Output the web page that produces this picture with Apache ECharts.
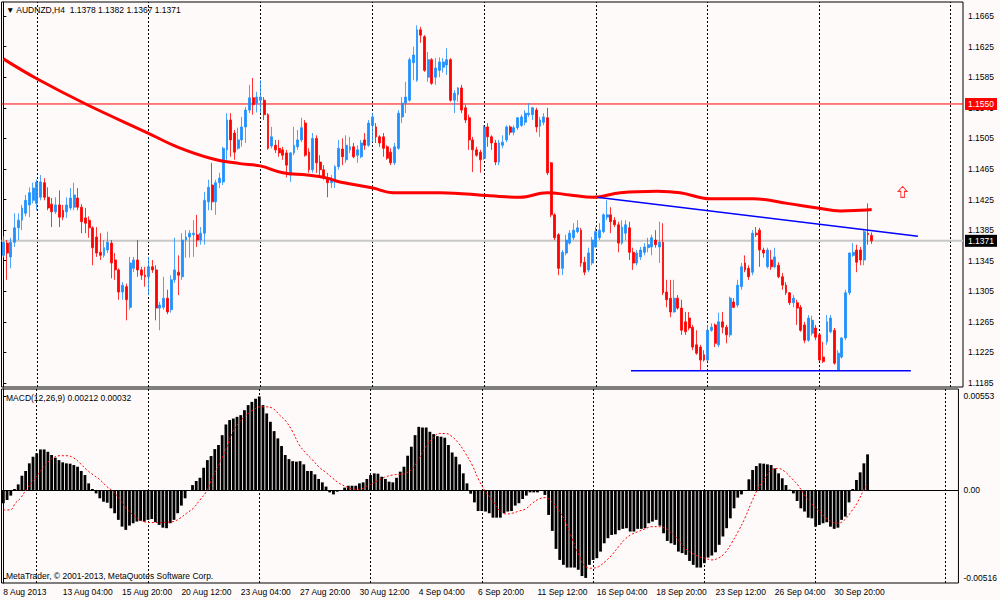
<!DOCTYPE html>
<html>
<head>
<meta charset="utf-8">
<title>AUDNZD,H4</title>
<script src="https://cdn.jsdelivr.net/npm/echarts@6/dist/echarts.min.js"></script>
<style>
html, body { margin: 0; padding: 0; background: #fffafa; }
#main { width: 1000px; height: 600px; }
</style>
</head>
<body>
<div id="main"></div>
<script>
// H4 bars, MT4 order: open, high, low, close
var candles = [
[1.1352,1.1377,1.1349,1.1369],[1.1368,1.1372,1.1320,1.1355],[1.1350,1.1375,1.1335,1.1369],[1.1369,1.1407,1.1363,1.1388],[1.1388,1.1407,1.1372,1.1398],
[1.1398,1.1418,1.1385,1.1414],[1.1407,1.1431,1.1403,1.1424],[1.1418,1.1441,1.1402,1.1434],[1.1424,1.1447,1.1420,1.1440],[1.1420,1.1451,1.1411,1.1448],
[1.1428,1.1457,1.1424,1.1448],[1.1447,1.1453,1.1424,1.1428],[1.1428,1.1441,1.1411,1.1414],[1.1419,1.1427,1.1389,1.1409],[1.1409,1.1428,1.1406,1.1418],
[1.1418,1.1437,1.1389,1.1402],[1.1411,1.1418,1.1398,1.1402],[1.1409,1.1428,1.1401,1.1418],[1.1414,1.1440,1.1411,1.1427],[1.1415,1.1447,1.1411,1.1431],
[1.1427,1.1440,1.1411,1.1415],[1.1415,1.1419,1.1381,1.1396],[1.1401,1.1414,1.1381,1.1394],[1.1398,1.1403,1.1375,1.1388],[1.1388,1.1390,1.1339,1.1362],
[1.1376,1.1389,1.1350,1.1355],[1.1356,1.1381,1.1346,1.1352],[1.1352,1.1372,1.1349,1.1362],[1.1359,1.1383,1.1355,1.1369],[1.1368,1.1372,1.1322,1.1342],
[1.1346,1.1355,1.1320,1.1333],[1.1333,1.1335,1.1294,1.1304],[1.1304,1.1317,1.1294,1.1313],[1.1311,1.1315,1.1267,1.1294],[1.1284,1.1350,1.1281,1.1342],
[1.1335,1.1350,1.1330,1.1346],[1.1346,1.1372,1.1324,1.1333],[1.1333,1.1337,1.1320,1.1326],[1.1326,1.1337,1.1311,1.1324],[1.1324,1.1350,1.1300,1.1337],
[1.1337,1.1346,1.1329,1.1333],[1.1333,1.1339,1.1267,1.1283],[1.1283,1.1291,1.1254,1.1287],[1.1284,1.1324,1.1281,1.1296],[1.1296,1.1307,1.1275,1.1278],
[1.1281,1.1326,1.1277,1.1320],[1.1320,1.1375,1.1316,1.1333],[1.1330,1.1352,1.1300,1.1326],[1.1324,1.1381,1.1320,1.1372],[1.1372,1.1385,1.1349,1.1376],
[1.1376,1.1385,1.1349,1.1381],[1.1379,1.1398,1.1350,1.1381],[1.1379,1.1405,1.1363,1.1372],[1.1372,1.1389,1.1366,1.1381],[1.1381,1.1435,1.1366,1.1424],
[1.1422,1.1451,1.1411,1.1441],[1.1444,1.1473,1.1411,1.1422],[1.1422,1.1451,1.1405,1.1447],[1.1447,1.1460,1.1440,1.1453],[1.1448,1.1494,1.1444,1.1492],
[1.1490,1.1538,1.1477,1.1529],[1.1529,1.1538,1.1481,1.1503],[1.1512,1.1516,1.1477,1.1487],[1.1492,1.1519,1.1490,1.1503],[1.1503,1.1533,1.1494,1.1520],
[1.1520,1.1546,1.1499,1.1542],[1.1542,1.1575,1.1538,1.1558],[1.1558,1.1584,1.1536,1.1549],[1.1551,1.1566,1.1539,1.1559],[1.1555,1.1581,1.1538,1.1559],
[1.1555,1.1559,1.1529,1.1536],[1.1536,1.1538,1.1490,1.1492],[1.1495,1.1520,1.1492,1.1507],[1.1496,1.1503,1.1486,1.1490],[1.1492,1.1503,1.1481,1.1486],
[1.1490,1.1494,1.1477,1.1483],[1.1486,1.1490,1.1454,1.1470],[1.1457,1.1487,1.1448,1.1486],[1.1486,1.1520,1.1483,1.1496],[1.1494,1.1516,1.1490,1.1503],
[1.1503,1.1532,1.1500,1.1519],[1.1525,1.1529,1.1481,1.1483],[1.1487,1.1492,1.1460,1.1464],[1.1464,1.1512,1.1460,1.1505],[1.1505,1.1509,1.1460,1.1473],
[1.1474,1.1483,1.1454,1.1464],[1.1464,1.1470,1.1451,1.1454],[1.1453,1.1460,1.1428,1.1447],[1.1447,1.1457,1.1440,1.1451],[1.1448,1.1470,1.1440,1.1468],
[1.1468,1.1503,1.1464,1.1492],[1.1491,1.1505,1.1470,1.1481],[1.1477,1.1509,1.1473,1.1496],[1.1490,1.1507,1.1486,1.1494],[1.1494,1.1499,1.1479,1.1481],
[1.1483,1.1496,1.1473,1.1490],[1.1481,1.1503,1.1479,1.1499],[1.1503,1.1512,1.1490,1.1496],[1.1496,1.1529,1.1494,1.1525],[1.1522,1.1538,1.1500,1.1533],
[1.1520,1.1525,1.1499,1.1507],[1.1507,1.1509,1.1494,1.1499],[1.1507,1.1512,1.1481,1.1492],[1.1494,1.1496,1.1477,1.1479],[1.1487,1.1492,1.1470,1.1473],
[1.1473,1.1499,1.1470,1.1494],[1.1492,1.1542,1.1490,1.1538],[1.1533,1.1559,1.1525,1.1551],[1.1551,1.1579,1.1538,1.1559],[1.1555,1.1611,1.1553,1.1608],
[1.1604,1.1625,1.1581,1.1614],[1.1581,1.1653,1.1579,1.1647],[1.1647,1.1651,1.1630,1.1640],[1.1638,1.1640,1.1592,1.1594],[1.1585,1.1618,1.1579,1.1608],
[1.1608,1.1610,1.1575,1.1577],[1.1585,1.1610,1.1575,1.1597],[1.1594,1.1611,1.1585,1.1605],[1.1598,1.1610,1.1591,1.1605],[1.1601,1.1623,1.1588,1.1608],
[1.1608,1.1610,1.1553,1.1555],[1.1555,1.1568,1.1538,1.1564],[1.1562,1.1572,1.1553,1.1571],[1.1571,1.1575,1.1538,1.1542],[1.1545,1.1549,1.1525,1.1529],
[1.1532,1.1536,1.1490,1.1503],[1.1503,1.1507,1.1461,1.1490],[1.1490,1.1494,1.1481,1.1483],[1.1487,1.1490,1.1460,1.1477],[1.1479,1.1522,1.1477,1.1520],
[1.1520,1.1525,1.1494,1.1507],[1.1507,1.1509,1.1490,1.1499],[1.1499,1.1503,1.1470,1.1474],[1.1474,1.1503,1.1470,1.1499],[1.1496,1.1509,1.1492,1.1500],
[1.1503,1.1522,1.1500,1.1520],[1.1520,1.1522,1.1509,1.1513],[1.1513,1.1522,1.1509,1.1519],[1.1519,1.1533,1.1516,1.1532],[1.1522,1.1536,1.1520,1.1533],
[1.1526,1.1542,1.1522,1.1538],[1.1536,1.1551,1.1533,1.1538],[1.1536,1.1546,1.1529,1.1545],[1.1542,1.1545,1.1513,1.1520],[1.1521,1.1533,1.1507,1.1529],
[1.1526,1.1538,1.1522,1.1533],[1.1532,1.1545,1.1457,1.1460],[1.1473,1.1474,1.1402,1.1405],[1.1405,1.1407,1.1372,1.1375],[1.1379,1.1381,1.1326,1.1335],
[1.1335,1.1359,1.1326,1.1356],[1.1355,1.1379,1.1352,1.1372],[1.1368,1.1385,1.1366,1.1381],[1.1375,1.1394,1.1372,1.1385],[1.1383,1.1398,1.1381,1.1388],
[1.1385,1.1388,1.1337,1.1342],[1.1343,1.1350,1.1326,1.1330],[1.1333,1.1362,1.1330,1.1355],[1.1342,1.1376,1.1339,1.1372],[1.1363,1.1389,1.1362,1.1383],
[1.1375,1.1394,1.1372,1.1385],[1.1383,1.1407,1.1381,1.1405],[1.1402,1.1424,1.1398,1.1405],[1.1405,1.1415,1.1381,1.1396],[1.1398,1.1402,1.1389,1.1392],
[1.1392,1.1396,1.1356,1.1368],[1.1368,1.1398,1.1366,1.1389],[1.1381,1.1398,1.1372,1.1392],[1.1388,1.1396,1.1346,1.1356],[1.1356,1.1362,1.1333,1.1342],
[1.1342,1.1359,1.1339,1.1355],[1.1350,1.1363,1.1346,1.1359],[1.1356,1.1368,1.1352,1.1363],[1.1362,1.1375,1.1356,1.1366],[1.1363,1.1379,1.1352,1.1375],
[1.1372,1.1385,1.1362,1.1366],[1.1363,1.1396,1.1342,1.1369],[1.1369,1.1394,1.1300,1.1303],[1.1304,1.1320,1.1284,1.1294],[1.1296,1.1320,1.1271,1.1278],
[1.1278,1.1320,1.1277,1.1296],[1.1296,1.1300,1.1281,1.1283],[1.1283,1.1294,1.1248,1.1254],[1.1265,1.1278,1.1248,1.1252],[1.1270,1.1278,1.1254,1.1257],
[1.1258,1.1261,1.1228,1.1232],[1.1235,1.1254,1.1222,1.1224],[1.1232,1.1235,1.1202,1.1215],[1.1222,1.1228,1.1213,1.1215],[1.1215,1.1261,1.1213,1.1254],
[1.1254,1.1263,1.1252,1.1258],[1.1261,1.1263,1.1232,1.1237],[1.1235,1.1277,1.1232,1.1265],[1.1265,1.1278,1.1250,1.1258],[1.1258,1.1261,1.1237,1.1248],
[1.1248,1.1298,1.1245,1.1296],[1.1291,1.1296,1.1283,1.1284],[1.1287,1.1320,1.1284,1.1313],[1.1311,1.1342,1.1307,1.1337],[1.1342,1.1352,1.1330,1.1333],
[1.1335,1.1339,1.1320,1.1324],[1.1330,1.1385,1.1326,1.1381],[1.1381,1.1389,1.1376,1.1379],[1.1385,1.1388,1.1337,1.1359],[1.1359,1.1362,1.1349,1.1355],
[1.1337,1.1362,1.1335,1.1359],[1.1346,1.1359,1.1333,1.1337],[1.1337,1.1362,1.1335,1.1350],[1.1339,1.1343,1.1322,1.1324],[1.1324,1.1329,1.1307,1.1313],
[1.1313,1.1317,1.1300,1.1303],[1.1303,1.1304,1.1287,1.1290],[1.1290,1.1300,1.1284,1.1296],[1.1290,1.1294,1.1261,1.1283],[1.1284,1.1287,1.1252,1.1254],
[1.1261,1.1265,1.1237,1.1241],[1.1241,1.1274,1.1239,1.1270],[1.1250,1.1273,1.1247,1.1267],[1.1257,1.1261,1.1241,1.1245],[1.1248,1.1250,1.1213,1.1215],
[1.1219,1.1239,1.1211,1.1213],[1.1239,1.1274,1.1235,1.1265],[1.1252,1.1274,1.1250,1.1270],[1.1254,1.1257,1.1209,1.1211],[1.1202,1.1228,1.1201,1.1224],
[1.1219,1.1245,1.1217,1.1244],[1.1244,1.1307,1.1241,1.1303],[1.1303,1.1356,1.1300,1.1355],[1.1352,1.1368,1.1350,1.1356],[1.1359,1.1366,1.1330,1.1343],
[1.1359,1.1363,1.1339,1.1346],[1.1346,1.1385,1.1339,1.1383],[1.1381,1.1420,1.1366,1.1379],[1.1378,1.1382,1.1367,1.1371]
];

// moving average, [bar, price]
var maPoints = [[0,1.1609],[9,1.1583],[22.5,1.1549],[38.8,1.1512],[46.6,1.1494],[56.3,1.1478],[63.5,1.1472],[68.9,1.1469],
  [75,1.1460],[81.5,1.1457],[86.9,1.1453],[90.3,1.1448],[99.2,1.1440],[104.5,1.1434],[117.2,1.1434],[130.6,1.1430],
  [138.6,1.1428],[145.9,1.1434],[152,1.1431],[158.2,1.1428],[165.6,1.1434],[175.4,1.1436],[181.6,1.1434],[189.7,1.1426],
  [195.1,1.1426],[201.2,1.1426],[210.3,1.1420],[218.4,1.1414],[224.6,1.1410],[230,1.1411],[233,1.1412]];

// MACD(12,26,9) histogram, one per bar
var macdHist = [
-0.00076,-0.00057,-0.00031,0.00008,0.00035,0.00086,0.00114,0.00159,0.00198,0.00218,
0.00241,0.00241,0.00227,0.00208,0.00192,0.00178,0.00165,0.00159,0.00157,0.00149,
0.00139,0.00114,0.00090,0.00041,0.00008,-0.00018,-0.00047,-0.00067,-0.00073,-0.00106,
-0.00135,-0.00174,-0.00214,-0.00233,-0.00208,-0.00194,-0.00184,-0.00180,-0.00184,-0.00174,
-0.00169,-0.00188,-0.00204,-0.00220,-0.00223,-0.00194,-0.00174,-0.00135,-0.00090,-0.00047,
-0.00004,0.00031,0.00055,0.00074,0.00133,0.00178,0.00202,0.00243,0.00267,0.00325,
0.00388,0.00414,0.00423,0.00433,0.00443,0.00472,0.00502,0.00521,0.00540,0.00553,
0.00502,0.00453,0.00404,0.00349,0.00306,0.00261,0.00208,0.00184,0.00172,0.00169,
0.00172,0.00153,0.00114,0.00114,0.00094,0.00067,0.00047,0.00022,-0.00012,-0.00024,
-0.00008,0.00002,0.00016,0.00027,0.00027,0.00027,0.00041,0.00047,0.00067,0.00090,
0.00100,0.00098,0.00080,0.00067,0.00051,0.00047,0.00074,0.00110,0.00139,0.00204,
0.00257,0.00325,0.00374,0.00370,0.00370,0.00345,0.00331,0.00319,0.00316,0.00310,
0.00267,0.00223,0.00198,0.00153,0.00100,0.00041,-0.00020,-0.00071,-0.00122,-0.00122,
-0.00125,-0.00135,-0.00161,-0.00161,-0.00161,-0.00135,-0.00125,-0.00122,-0.00090,-0.00076,
-0.00051,-0.00031,-0.00012,-0.00012,-0.00012,-0.00004,-0.00027,-0.00145,-0.00239,-0.00345,
-0.00410,-0.00439,-0.00455,-0.00455,-0.00455,-0.00468,-0.00505,-0.00516,-0.00439,-0.00410,
-0.00400,-0.00361,-0.00312,-0.00282,-0.00263,-0.00259,-0.00235,-0.00227,-0.00223,-0.00243,
-0.00243,-0.00227,-0.00227,-0.00223,-0.00194,-0.00184,-0.00174,-0.00208,-0.00253,-0.00298,
-0.00312,-0.00321,-0.00361,-0.00370,-0.00380,-0.00416,-0.00439,-0.00455,-0.00455,-0.00429,
-0.00396,-0.00384,-0.00365,-0.00321,-0.00272,-0.00223,-0.00165,-0.00106,-0.00043,-0.00024,
-0.00004,0.00065,0.00120,0.00143,0.00159,0.00157,0.00153,0.00149,0.00129,0.00100,
0.00071,0.00031,0.00004,-0.00018,-0.00063,-0.00106,-0.00125,-0.00161,-0.00165,-0.00214,
-0.00204,-0.00194,-0.00188,-0.00214,-0.00227,-0.00220,-0.00174,-0.00155,-0.00071,0.00008,
0.00061,0.00106,0.00159,0.00212
];

// MACD signal line, [bar, value]
var signalPoints = [[0,-0.00116],[2,-0.00114],[3.2,-0.00076],[4.6,-0.00047],[6.4,0.00012],[8.2,0.00061],[9.9,0.00110],
  [11.7,0.00159],[13.5,0.00192],[15.3,0.00204],[17.1,0.00204],[18.9,0.00192],[20.7,0.00159],[22.5,0.00120],[24.3,0.00090],
  [26.1,0.00061],[27.9,0.00022],[29.7,-0.00008],[31.5,-0.00057],[33.2,-0.00106],[35,-0.00145],[36.8,-0.00174],[38.6,-0.00188],
  [40.4,-0.00190],[42.2,-0.00190],[44,-0.00188],[45.8,-0.00184],[47.6,-0.00165],[49.4,-0.00135],[51.2,-0.00106],[53,-0.00057],
  [54.7,-0.00008],[56.5,0.00080],[58.3,0.00159],[60.1,0.00247],[61.9,0.00345],[63.7,0.00404],[65.5,0.00443],[67.3,0.00472],
  [69.1,0.00492],[70.9,0.00492],[72.7,0.00482],[74.5,0.00443],[76.3,0.00404],[78,0.00345],[79.8,0.00267],[81.6,0.00218],
  [83.4,0.00178],[85.2,0.00135],[87,0.00105],[88.8,0.00071],[90.6,0.00041],[92.4,0.00022],[94.2,0.00008],[96,0.00006],
  [97.8,0.00022],[99.6,0.00041],[101.3,0.00061],[103.1,0.00080],[104.9,0.00090],[106.7,0.00094],[108.5,0.00100],[110.3,0.00129],
  [112.1,0.00188],[113.9,0.00257],[115.7,0.00306],[117.5,0.00335],[119.3,0.00335],[121,0.00316],[122.8,0.00276],[124.6,0.00218],
  [126.4,0.00149],[128.2,0.00061],[130,-0.00008],[131.8,-0.00057],[133.6,-0.00116],[135.4,-0.00139],[137.2,-0.00135],[139,-0.00122],
  [140.8,-0.00110],[142.6,-0.00076],[144.4,-0.00051],[146.1,-0.00043],[147.9,-0.00067],[149.7,-0.00116],[151.5,-0.00184],[153.3,-0.00282],
  [155.1,-0.00380],[156.9,-0.00449],[158.7,-0.00459],[160.5,-0.00449],[162.3,-0.00419],[164.1,-0.00380],[165.9,-0.00331],[167.7,-0.00286],
  [169.4,-0.00259],[171.2,-0.00243],[173,-0.00227],[174.8,-0.00214],[176.6,-0.00214],[178.4,-0.00223],[180.2,-0.00253],[182,-0.00292],
  [183.8,-0.00341],[185.6,-0.00370],[187.4,-0.00390],[189.2,-0.00400],[191,-0.00410],[192.7,-0.00400],[194.5,-0.00370],[196.3,-0.00312],
  [198.1,-0.00243],[199.9,-0.00165],[201.7,-0.00071],[203.5,0.00012],[205.3,0.00071],[207.1,0.00120],[208.9,0.00129],[210.7,0.00110],
  [212.5,0.00071],[214.2,0.00031],[216,-0.00027],[217.8,-0.00076],[219.6,-0.00116],[221.4,-0.00155],[223.2,-0.00184],[225,-0.00194],
  [226.8,-0.00174],[228.6,-0.00125],[230.4,-0.00067],[232.2,0.00012],[233,0.00032]];

// drawn objects
var trendLine = [[159.3,1.1428],[245.4,1.1377]];
var supportLine = [[168.4,1.1201],[243.5,1.1201]];
var arrowPoint = [[241.3,1.1435]];
var alertLevel = 1.1550;

// axes
var timeLabels = ['8 Aug 2013','13 Aug 04:00','15 Aug 20:00','20 Aug 12:00','23 Aug 04:00','27 Aug 20:00','30 Aug 12:00',
  '4 Sep 04:00','6 Sep 20:00','11 Sep 12:00','16 Sep 04:00','18 Sep 20:00','23 Sep 12:00','26 Sep 04:00','30 Sep 20:00'];
var weekLines = [9, 39, 69, 99, 129, 159, 189, 219, 254];
var priceTicks = [1.1665,1.1625,1.1585,1.1545,1.1505,1.1465,1.1425,1.1385,1.1345,1.1305,1.1265,1.1225,1.1185];
var macdTicks = [0.00553, 0, -0.00516];

var SLOTS = 258;   // bars plus the empty shift on the right
var FONT = '"Liberation Sans", Arial, sans-serif';

var cats = [];
for (var i = 0; i < SLOTS; i++) cats.push(String(i));

// echarts wants open, close, low, high
var kData = candles.map(function (r) { return [r[0], r[3], r[2], r[1]]; });
var last = candles[candles.length - 1];
var lastSignal = signalPoints[signalPoints.length - 1][1];

var dotted = { color: '#000', width: 1, type: [2, 2] };
var vLines = weekLines.map(function (v) { return { xAxis: v }; });

// full-width horizontal level with its price box on the axis
function levelSeries(name, level, lineColor, lineWidth, boxColor) {
	return {
		name: name, type: 'line', xAxisIndex: 2, yAxisIndex: 0,
		data: [[-0.5, level], [SLOTS - 0.5, level]],
		symbol: 'none', z: 1, clip: false, silent: true,
		lineStyle: { color: lineColor, width: lineWidth },
		endLabel: {
			show: true, distance: 2, formatter: level.toFixed(4),
			backgroundColor: boxColor, color: '#fff', fontSize: 8.5, fontFamily: FONT, padding: [2, 3, 1, 3]
		}
	};
}

var myChart = echarts.init(document.getElementById('main'), null, { renderer: 'svg' });

var option = {
	animation: false,
	backgroundColor: '#fffafa',
	textStyle: { fontFamily: FONT },
	grid: [
		{ left: 1.5, top: 2, width: 961.5, height: 385, show: true, borderColor: '#000', borderWidth: 1 },
		{ left: 1.5, top: 389, width: 961.5, height: 194, show: true, borderColor: '#000', borderWidth: 1 }
	],
	xAxis: [
		{ type: 'category', gridIndex: 0, data: cats, show: false },
		{
			type: 'category', gridIndex: 1, data: cats,
			axisLine: { lineStyle: { color: '#000', width: 1 } },
			axisTick: { alignWithLabel: true, interval: 15, length: 4, lineStyle: { color: '#000' } },
			axisLabel: {
				interval: 15, align: 'left', margin: 4, fontSize: 8.5, color: '#000', fontFamily: FONT,
				formatter: function (v, idx) { return timeLabels[idx / 16] || ''; }
			},
			splitLine: { show: false }
		},
		{ type: 'value', gridIndex: 0, min: -0.5, max: SLOTS - 0.5, show: false },
		{ type: 'value', gridIndex: 1, min: -0.5, max: SLOTS - 0.5, show: false }
	],
	yAxis: [
		{
			type: 'value', gridIndex: 0, position: 'right', min: 1.11798, max: 1.16834,
			splitLine: { show: false },
			axisLine: { show: true, lineStyle: { color: '#000' } },
			axisTick: { show: true, length: 3, customValues: priceTicks, lineStyle: { color: '#000' } },
			axisLabel: {
				customValues: priceTicks, margin: 5, fontSize: 8.5, color: '#000', fontFamily: FONT,
				formatter: function (v) { return v.toFixed(4); }
			}
		},
		{
			type: 'value', gridIndex: 1, position: 'right', min: -0.00546, max: 0.00597,
			splitLine: { show: false },
			axisLine: { show: true, lineStyle: { color: '#000' } },
			axisTick: { show: true, length: 3, customValues: macdTicks, lineStyle: { color: '#000' } },
			axisLabel: {
				customValues: macdTicks, margin: 5, fontSize: 8.5, color: '#000', fontFamily: FONT,
				formatter: function (v) { return v === 0 ? '0.00' : v.toFixed(5); }
			}
		}
	],
	graphic: [
		{ type: 'text', left: 6, top: 5, style: { text: '\u25BC AUDNZD,H4  ' + last.map(function (v) { return v.toFixed(4); }).join(' '), font: '8.5px ' + FONT, fill: '#000' } },
		{ type: 'text', left: 6, top: 393, style: { text: 'MACD(12,26,9) ' + macdHist[macdHist.length - 1].toFixed(5) + ' ' + lastSignal.toFixed(5), font: '8.5px ' + FONT, fill: '#000' } },
		{ type: 'text', left: 6, top: 571, style: { text: 'MetaTrader, \u00A9 2001-2013, MetaQuotes Software Corp.', font: '8.5px ' + FONT, fill: '#000' } }
	],
	series: [
		levelSeries('alert', alertLevel, '#ff0000', 1, '#ff0000'),
		levelSeries('bid', last[3], '#c8c8c8', 2, '#000'),
		{
			name: 'AUDNZD', type: 'candlestick', xAxisIndex: 0, yAxisIndex: 0,
			data: kData, barWidth: 2.4, z: 3,
			itemStyle: { color: '#1e90ff', color0: '#ff0000', borderColor: '#1e90ff', borderColor0: '#ff0000', borderWidth: 0.8 }
		},
		{
			name: 'MA', type: 'line', xAxisIndex: 2, yAxisIndex: 0, data: maPoints,
			smooth: 0.4, symbol: 'none', z: 4,
			lineStyle: { color: '#ff0000', width: 3 },
			markLine: { silent: true, symbol: ['none', 'none'], z: 1, label: { show: false }, lineStyle: dotted, data: vLines }
		},
		{
			name: 'trend', type: 'line', xAxisIndex: 2, yAxisIndex: 0, data: trendLine,
			symbol: 'none', z: 5, lineStyle: { color: '#0000ff', width: 1.6 }
		},
		{
			name: 'support', type: 'line', xAxisIndex: 2, yAxisIndex: 0, data: supportLine,
			symbol: 'none', z: 5, lineStyle: { color: '#0000ff', width: 1.6 }
		},
		{
			name: 'arrow', type: 'scatter', xAxisIndex: 2, yAxisIndex: 0, data: arrowPoint,
			symbol: 'path://M5,0 L10,5 L7,5 L7,11 L3,11 L3,5 L0,5 Z', symbolSize: [9, 11], z: 5,
			itemStyle: { color: '#fffafa', borderColor: '#ff0000', borderWidth: 1 }
		},
		{
			name: 'MACD', type: 'bar', xAxisIndex: 1, yAxisIndex: 1, data: macdHist,
			barWidth: 2.8, z: 3,
			itemStyle: { color: '#000' }
		},
		{
			name: 'Signal', type: 'line', xAxisIndex: 3, yAxisIndex: 1, data: signalPoints,
			smooth: 0.4, symbol: 'none', z: 4,
			lineStyle: { color: '#ff0000', width: 1, type: [2, 2] },
			markLine: { silent: true, symbol: ['none', 'none'], z: 1, label: { show: false }, lineStyle: dotted, data: vLines }
		}
	]
};

myChart.setOption(option);
</script>
</body>
</html>
